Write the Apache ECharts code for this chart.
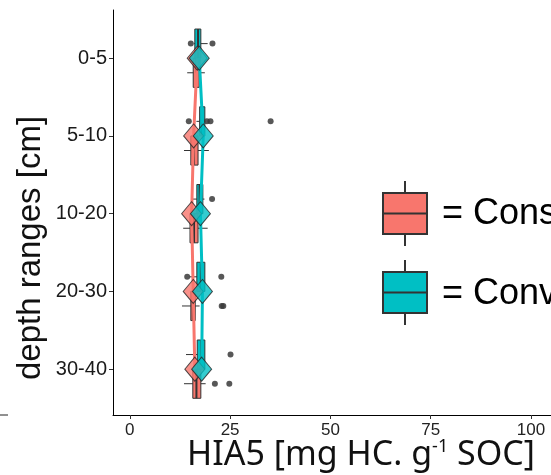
<!DOCTYPE html>
<html>
<head>
<meta charset="utf-8">
<script src="https://cdn.jsdelivr.net/npm/echarts@6/dist/echarts.min.js"></script>
<style>
  html, body { margin: 0; padding: 0; background: #fff; }
  #chart { width: 551px; height: 475px; }
</style>
</head>
<body>
<div id="chart"></div>
<script>
// Depth classes (top to bottom)
const depths = ['0-5', '5-10', '10-20', '20-30', '30-40'];
const xTicks = [0, 25, 50, 75, 100];

// Conservation tillage: box statistics per depth
const consLow  = [14.3, 13.5, 13.3, 13.0, 13.5];
const consQ1   = [15.8, 15.2, 15.0, 15.2, 15.7];
const consMed  = [16.5, 16.0, 16.0, 15.7, 16.6];
const consQ3   = [17.3, 17.0, 17.0, 16.3, 17.7];
const consHigh = [18.7, 19.7, 19.4, 17.4, 18.9];
const consMean = [16.8, 15.9, 15.4, 15.8, 16.2];
const consOutliers = [[], [], [], [22.9, 23.3], [21.2, 24.8]];

// Conventional tillage: box statistics per depth
const convLow  = [16.0, 16.6, 15.5, 14.9, 14.0];
const convQ1   = [16.2, 17.4, 16.7, 16.7, 16.8];
const convMed  = [17.0, 18.0, 17.4, 17.7, 17.8];
const convQ3   = [17.7, 18.7, 18.2, 18.7, 18.7];
const convHigh = [19.4, 18.8, 18.6, 18.6, 18.4];
const convMean = [17.3, 18.3, 17.6, 18.1, 17.9];
const convOutliers = [[15.2, 20.6], [14.7, 19.2, 20.1, 35.1], [20.5], [14.3, 22.8], [25.1]];

const PINK = '#F8766D';
const TEAL = '#00BFC4';
const EDGE = '#333333';
const DODGE = 0.1875;   // half of the dodged box width (category units)

function boxData(low, q1, med, q3, high) {
  return depths.map((d, i) => [i + 1, low[i], q1[i], med[i], q3[i], high[i]]);
}
function outlierData(list, off) {
  const out = [];
  list.forEach((vals, i) => vals.forEach(v => out.push([v, i + 1 + off])));
  return out;
}
function meanData(means) {
  return means.map((m, i) => [m, i + 1]);
}

function boxRenderer(color, off) {
  return function (params, api) {
    const yc = api.value(0) + off;
    const low = api.value(1), q1 = api.value(2), med = api.value(3),
          q3 = api.value(4), high = api.value(5);
    const pLow = api.coord([low, yc]);
    const pHigh = api.coord([high, yc]);
    const a = api.coord([q1, yc - DODGE]);
    const b = api.coord([q3, yc + DODGE]);
    const m0 = api.coord([med, yc - DODGE]);
    const m1 = api.coord([med, yc + DODGE]);
    return {
      type: 'group',
      children: [
        { type: 'line', shape: { x1: pLow[0], y1: pLow[1], x2: pHigh[0], y2: pHigh[1] },
          style: { stroke: EDGE, lineWidth: 1 } },
        { type: 'rect',
          shape: { x: Math.min(a[0], b[0]), y: Math.min(a[1], b[1]),
                   width: Math.abs(b[0] - a[0]), height: Math.abs(b[1] - a[1]) },
          style: { fill: color, stroke: EDGE, lineWidth: 1 } },
        { type: 'line', shape: { x1: m0[0], y1: m0[1], x2: m1[0], y2: m1[1] },
          style: { stroke: EDGE, lineWidth: 2 } }
      ]
    };
  };
}

// Legend glyph: a small boxplot key drawn as graphic elements
function legendKey(top, color) {
  const cx = 405, left = 383, w = 44, h = 41;
  return [
    { type: 'line', shape: { x1: cx, y1: top - 12, x2: cx, y2: top }, style: { stroke: EDGE, lineWidth: 2 } },
    { type: 'line', shape: { x1: cx, y1: top + h, x2: cx, y2: top + h + 12 }, style: { stroke: EDGE, lineWidth: 2 } },
    { type: 'rect', shape: { x: left, y: top, width: w, height: h }, style: { fill: color, stroke: EDGE, lineWidth: 2 } },
    { type: 'line', shape: { x1: left, y1: top + h / 2, x2: left + w, y2: top + h / 2 }, style: { stroke: EDGE, lineWidth: 2 } }
  ];
}

const chart = echarts.init(document.getElementById('chart'), null, { renderer: 'canvas' });

chart.setOption({
  animation: false,
  backgroundColor: '#ffffff',
  grid: { left: 113, top: 10, right: -7, bottom: 60, containLabel: false },
  xAxis: {
    type: 'value',
    min: -4.2,
    max: 105,
    axisLine: { show: true, onZero: false, lineStyle: { color: '#000', width: 1 } },
    axisTick: { show: true, customValues: xTicks, length: 4, lineStyle: { color: '#333' } },
    axisLabel: { customValues: xTicks, color: '#222', fontFamily: 'Liberation Sans', fontSize: 17, margin: 7 },
    splitLine: { show: false }
  },
  yAxis: {
    type: 'value',
    inverse: true,
    min: 0.38,
    max: 5.59,
    axisLine: { show: true, onZero: false, lineStyle: { color: '#000', width: 1 } },
    axisTick: { show: true, customValues: [1, 2, 3, 4, 5], length: 4, lineStyle: { color: '#333' } },
    axisLabel: {
      customValues: [1, 2, 3, 4, 5],
      formatter: v => depths[Math.round(v) - 1] || '',
      color: '#1a1a1a', fontFamily: 'Liberation Sans', fontSize: 20, margin: 6
    },
    splitLine: { show: false }
  },
  series: [
    { name: 'Cons box', type: 'custom', z: 2, renderItem: boxRenderer(PINK, DODGE),
      encode: { x: [1, 2, 3, 4, 5], y: 0 },
      data: boxData(consLow, consQ1, consMed, consQ3, consHigh) },
    { name: 'Conv box', type: 'custom', z: 2, renderItem: boxRenderer(TEAL, -DODGE),
      encode: { x: [1, 2, 3, 4, 5], y: 0 },
      data: boxData(convLow, convQ1, convMed, convQ3, convHigh) },
    { name: 'Cons outliers', type: 'scatter', z: 3, symbol: 'circle', symbolSize: 6,
      itemStyle: { color: '#3a3a3a', opacity: 0.85 }, data: outlierData(consOutliers, DODGE) },
    { name: 'Conv outliers', type: 'scatter', z: 3, symbol: 'circle', symbolSize: 6,
      itemStyle: { color: '#3a3a3a', opacity: 0.85 }, data: outlierData(convOutliers, -DODGE) },
    { name: 'Cons mean', type: 'line', z: 4, symbol: 'none', data: meanData(consMean),
      lineStyle: { color: PINK, width: 3 } },
    { name: 'Conv mean', type: 'line', z: 4, symbol: 'none', data: meanData(convMean),
      lineStyle: { color: TEAL, width: 3 } },
    { name: 'Cons mean pt', type: 'scatter', z: 5, symbol: 'diamond', symbolSize: [20, 24],
      itemStyle: { color: PINK, borderColor: '#222', borderWidth: 1 }, data: meanData(consMean) },
    { name: 'Conv mean pt', type: 'scatter', z: 6, symbol: 'diamond', symbolSize: [20, 24],
      itemStyle: { color: TEAL, borderColor: '#222', borderWidth: 1 }, data: meanData(convMean) }
  ],
  graphic: [
    ...legendKey(193, PINK),
    ...legendKey(272, TEAL),
    { type: 'text', x: 442, y: 214, style: { text: '= Conservation', fontFamily: 'Liberation Sans', fontSize: 36, fill: '#000', verticalAlign: 'middle' } },
    { type: 'text', x: 442, y: 294, style: { text: '= Conventional', fontFamily: 'Liberation Sans', fontSize: 36, fill: '#000', verticalAlign: 'middle' } },
    // axis titles
    { type: 'text', x: 31, y: 248, rotation: Math.PI / 2,
      style: { text: 'depth ranges [cm]', fontFamily: 'Liberation Sans', fontSize: 33, fill: '#111', align: 'center', verticalAlign: 'middle' } },
    { type: 'text', x: 361, y: 455,
      style: {
        text: '{a|HIA5 [mg HC. g}{s|-1}{a| SOC]}', align: 'center', verticalAlign: 'middle',
        rich: {
          a: { fontFamily: 'Noto Sans', fontSize: 34, fill: '#111' },
          s: { fontFamily: 'Noto Sans', fontSize: 18, fill: '#111', verticalAlign: 'top', padding: [0, 0, 14, 0] }
        }
      } },
    { type: 'line', shape: { x1: 0, y1: 415, x2: 8, y2: 415 }, style: { stroke: '#222', lineWidth: 1 } }
  ]
});
</script>
</body>
</html>
